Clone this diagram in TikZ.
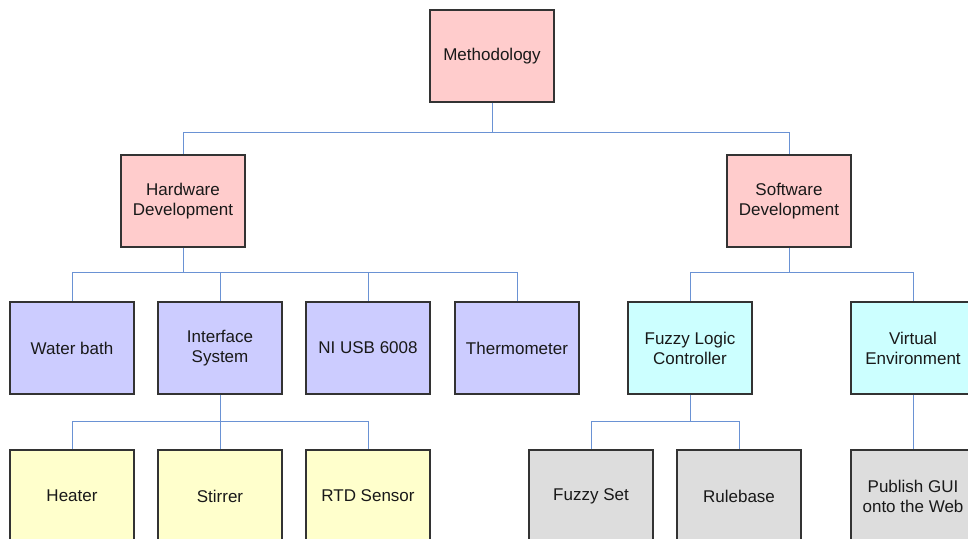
\documentclass[tikz,border=0pt]{standalone}
\usepackage{fontspec}
\setmainfont{Liberation Sans}
\definecolor{pinkfill}{HTML}{FFCCCC}
\definecolor{lavfill}{HTML}{CCCCFF}
\definecolor{cyanfill}{HTML}{CCFFFF}
\definecolor{yelfill}{HTML}{FFFFCC}
\definecolor{greyfill}{HTML}{DDDDDD}
\definecolor{linkblue}{HTML}{6A92D4}
\definecolor{border}{HTML}{333333}
\tikzset{
  box/.style={draw=border, line width=1.2pt, minimum width=124pt, minimum height=92pt,
    inner sep=0pt, align=center, font=\fontsize{17}{20}\selectfont, text=black!90},
  lvlA/.style={box, fill=pinkfill},
  lvlB/.style={box, fill=lavfill},
  lvlC/.style={box, fill=cyanfill},
  lvlD/.style={box, fill=yelfill},
  lvlE/.style={box, fill=greyfill},
  link/.style={draw=linkblue, line width=1pt}
}
\begin{document}
\begin{tikzpicture}[x=1pt,y=-1pt]
\useasboundingbox (0,0) rectangle (968,538);
\clip (0,0) rectangle (968,538);
% nodes
\node[lvlA] (meth) at (492,56) {Methodology};
\node[lvlA] (hw) at (183,201) {Hardware\\Development};
\node[lvlA] (sw) at (789,201) {Software\\Development};
\node[lvlB] (wb) at (72,348) {Water bath};
\node[lvlB] (is) at (220,348) {Interface\\System};
\node[lvlB] (ni) at (368,348) {NI USB 6008};
\node[lvlB] (th) at (517,348) {Thermometer};
\node[lvlC] (flc) at (690,348) {Fuzzy Logic\\Controller};
\node[lvlC] (ve) at (913,348) {Virtual\\Environment};
\node[lvlD] (he) at (72,496) {Heater};
\node[lvlD] (st) at (220,496) {Stirrer};
\node[lvlD] (rtd) at (368,496) {RTD Sensor};
\node[lvlE] (fs) at (591,496) {Fuzzy Set};
\node[lvlE] (rb) at (739,496) {Rulebase};
\node[lvlE] (pg) at (913,496) {Publish GUI\\onto the Web};
% bus coordinates
\coordinate (b1) at (492,132);
\coordinate (b2) at (183,272);
\coordinate (b3) at (789,272);
\coordinate (b4) at (220,421);
\coordinate (b5) at (690,421);
% connectors
\draw[link] (meth.south) -- (b1);
\draw[link] (b1) -| (hw.north);
\draw[link] (b1) -| (sw.north);
\draw[link] (hw.south) -- (b2);
\draw[link] (b2) -| (wb.north);
\draw[link] (b2) -| (is.north);
\draw[link] (b2) -| (ni.north);
\draw[link] (b2) -| (th.north);
\draw[link] (sw.south) -- (b3);
\draw[link] (b3) -| (flc.north);
\draw[link] (b3) -| (ve.north);
\draw[link] (is.south) -- (b4);
\draw[link] (b4) -| (he.north);
\draw[link] (b4) -- (st.north);
\draw[link] (b4) -| (rtd.north);
\draw[link] (flc.south) -- (b5);
\draw[link] (b5) -| (fs.north);
\draw[link] (b5) -| (rb.north);
\draw[link] (ve.south) -- (pg.north);
\end{tikzpicture}
\end{document}
